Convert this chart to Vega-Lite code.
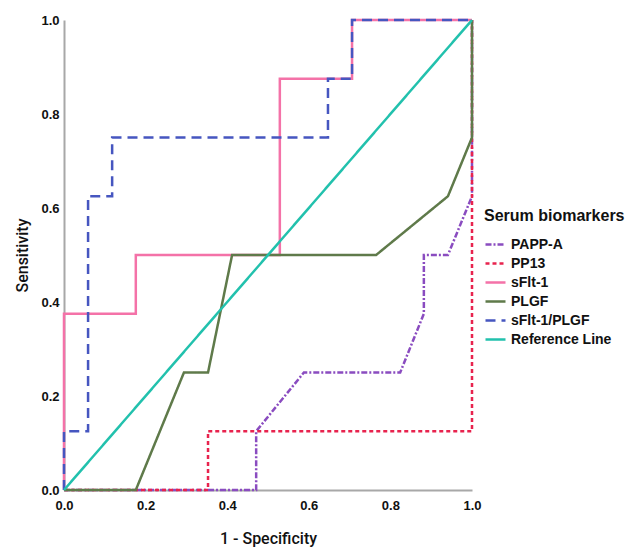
{
  "$schema": "https://vega.github.io/schema/vega-lite/v6.json",
  "autosize": "none",
  "width": 408,
  "height": 470,
  "padding": {"left": 64, "top": 20, "right": 159, "bottom": 59},
  "background": "white",
  "config": {
    "view": {"stroke": null},
    "font": "Liberation Sans Narrow, Liberation Sans, sans-serif"
  },
  "data": {
    "values": [
      {"series": "PAPP-A", "fpr": 0, "tpr": 0},
      {"series": "PAPP-A", "fpr": 0.471, "tpr": 0},
      {"series": "PAPP-A", "fpr": 0.471, "tpr": 0.125},
      {"series": "PAPP-A", "fpr": 0.588, "tpr": 0.25},
      {"series": "PAPP-A", "fpr": 0.824, "tpr": 0.25},
      {"series": "PAPP-A", "fpr": 0.882, "tpr": 0.375},
      {"series": "PAPP-A", "fpr": 0.882, "tpr": 0.5},
      {"series": "PAPP-A", "fpr": 0.941, "tpr": 0.5},
      {"series": "PAPP-A", "fpr": 1, "tpr": 0.625},
      {"series": "PAPP-A", "fpr": 1, "tpr": 1},
      {"series": "PP13", "fpr": 0, "tpr": 0},
      {"series": "PP13", "fpr": 0.353, "tpr": 0},
      {"series": "PP13", "fpr": 0.353, "tpr": 0.125},
      {"series": "PP13", "fpr": 1, "tpr": 0.125},
      {"series": "PP13", "fpr": 1, "tpr": 1},
      {"series": "sFlt-1", "fpr": 0, "tpr": 0},
      {"series": "sFlt-1", "fpr": 0, "tpr": 0.375},
      {"series": "sFlt-1", "fpr": 0.176, "tpr": 0.375},
      {"series": "sFlt-1", "fpr": 0.176, "tpr": 0.5},
      {"series": "sFlt-1", "fpr": 0.529, "tpr": 0.5},
      {"series": "sFlt-1", "fpr": 0.529, "tpr": 0.875},
      {"series": "sFlt-1", "fpr": 0.706, "tpr": 0.875},
      {"series": "sFlt-1", "fpr": 0.706, "tpr": 1},
      {"series": "sFlt-1", "fpr": 1, "tpr": 1},
      {"series": "PLGF", "fpr": 0, "tpr": 0},
      {"series": "PLGF", "fpr": 0.176, "tpr": 0},
      {"series": "PLGF", "fpr": 0.294, "tpr": 0.25},
      {"series": "PLGF", "fpr": 0.353, "tpr": 0.25},
      {"series": "PLGF", "fpr": 0.412, "tpr": 0.5},
      {"series": "PLGF", "fpr": 0.765, "tpr": 0.5},
      {"series": "PLGF", "fpr": 0.941, "tpr": 0.625},
      {"series": "PLGF", "fpr": 1, "tpr": 0.75},
      {"series": "PLGF", "fpr": 1, "tpr": 1},
      {"series": "sFlt-1/PLGF", "fpr": 0, "tpr": 0},
      {"series": "sFlt-1/PLGF", "fpr": 0, "tpr": 0.125},
      {"series": "sFlt-1/PLGF", "fpr": 0.059, "tpr": 0.125},
      {"series": "sFlt-1/PLGF", "fpr": 0.059, "tpr": 0.625},
      {"series": "sFlt-1/PLGF", "fpr": 0.118, "tpr": 0.625},
      {"series": "sFlt-1/PLGF", "fpr": 0.118, "tpr": 0.75},
      {"series": "sFlt-1/PLGF", "fpr": 0.647, "tpr": 0.75},
      {"series": "sFlt-1/PLGF", "fpr": 0.647, "tpr": 0.875},
      {"series": "sFlt-1/PLGF", "fpr": 0.706, "tpr": 0.875},
      {"series": "sFlt-1/PLGF", "fpr": 0.706, "tpr": 1},
      {"series": "sFlt-1/PLGF", "fpr": 1, "tpr": 1},
      {"series": "Reference Line", "fpr": 0, "tpr": 0},
      {"series": "Reference Line", "fpr": 1, "tpr": 1}
    ]
  },
  "mark": {"type": "line", "clip": false},
  "encoding": {
    "x": {
      "field": "fpr", "type": "quantitative",
      "scale": {"domain": [0, 1], "nice": false, "zero": false},
      "axis": {
        "title": "1 - Specificity",
        "values": [0, 0.2, 0.4, 0.6, 0.8, 1],
        "format": ".1f",
        "ticks": false, "grid": false,
        "domainColor": "#a8a8a8", "domainWidth": 2,
        "labelFontSize": 13, "labelFontWeight": "bold", "labelColor": "#111",
        "labelPadding": 9,
        "labelFlush": false,
        "titleFontSize": 16, "titleFontWeight": 500, "titleColor": "#111",
        "titleFont": "Roboto, Liberation Sans, sans-serif",
        "titleY": 48, "titleBaseline": "middle"
      }
    },
    "y": {
      "field": "tpr", "type": "quantitative",
      "scale": {"domain": [0, 1], "nice": false, "zero": false},
      "axis": {
        "title": "Sensitivity",
        "values": [0, 0.2, 0.4, 0.6, 0.8, 1],
        "format": ".1f",
        "ticks": false, "grid": false,
        "domainColor": "#a8a8a8", "domainWidth": 2,
        "labelFontSize": 13, "labelFontWeight": "bold", "labelColor": "#111",
        "labelPadding": 5,
        "labelFlush": false,
        "titleFontSize": 16, "titleFontWeight": 500, "titleColor": "#111",
        "titleFont": "Roboto, Liberation Sans, sans-serif",
        "titleX": -42, "titleY": 235, "titleAngle": -90,
        "titleBaseline": "middle", "titleAlign": "center"
      }
    },
    "order": {"value": null},
    "color": {
      "field": "series", "type": "nominal",
      "title": "Serum biomarkers",
      "scale": {
        "domain": ["PAPP-A", "PP13", "sFlt-1", "PLGF", "sFlt-1/PLGF", "Reference Line"],
        "range": ["#8a4cc0", "#e8234e", "#f472a8", "#5f7a4a", "#4656c0", "#22c1ad"]
      },
      "legend": {
        "orient": "none", "legendX": 420, "legendY": 188,
        "symbolType": "stroke", "symbolSize": 400, "symbolStrokeWidth": 2.5,
        "labelFontSize": 14, "labelFontWeight": "bold", "labelColor": "#111",
        "titleFontSize": 16, "titleFontWeight": "bold", "titleColor": "#111",
        "titleFont": "Liberation Sans, sans-serif",
        "titlePadding": 9, "rowPadding": 0, "labelOffset": 4,
        "padding": 0
      }
    },
    "strokeDash": {
      "field": "series", "type": "nominal",
      "title": "Serum biomarkers",
      "scale": {
        "domain": ["PAPP-A", "PP13", "sFlt-1", "PLGF", "sFlt-1/PLGF", "Reference Line"],
        "range": [[6, 2, 2, 2], [4, 3], [1, 0], [1, 0], [10, 6], [1, 0]]
      }
    },
    "strokeWidth": {
      "field": "series", "type": "nominal",
      "title": "Serum biomarkers",
      "scale": {
        "domain": ["PAPP-A", "PP13", "sFlt-1", "PLGF", "sFlt-1/PLGF", "Reference Line"],
        "range": [2.5, 2.5, 1.6, 2, 3, 2]
      }
    }
  }
}
